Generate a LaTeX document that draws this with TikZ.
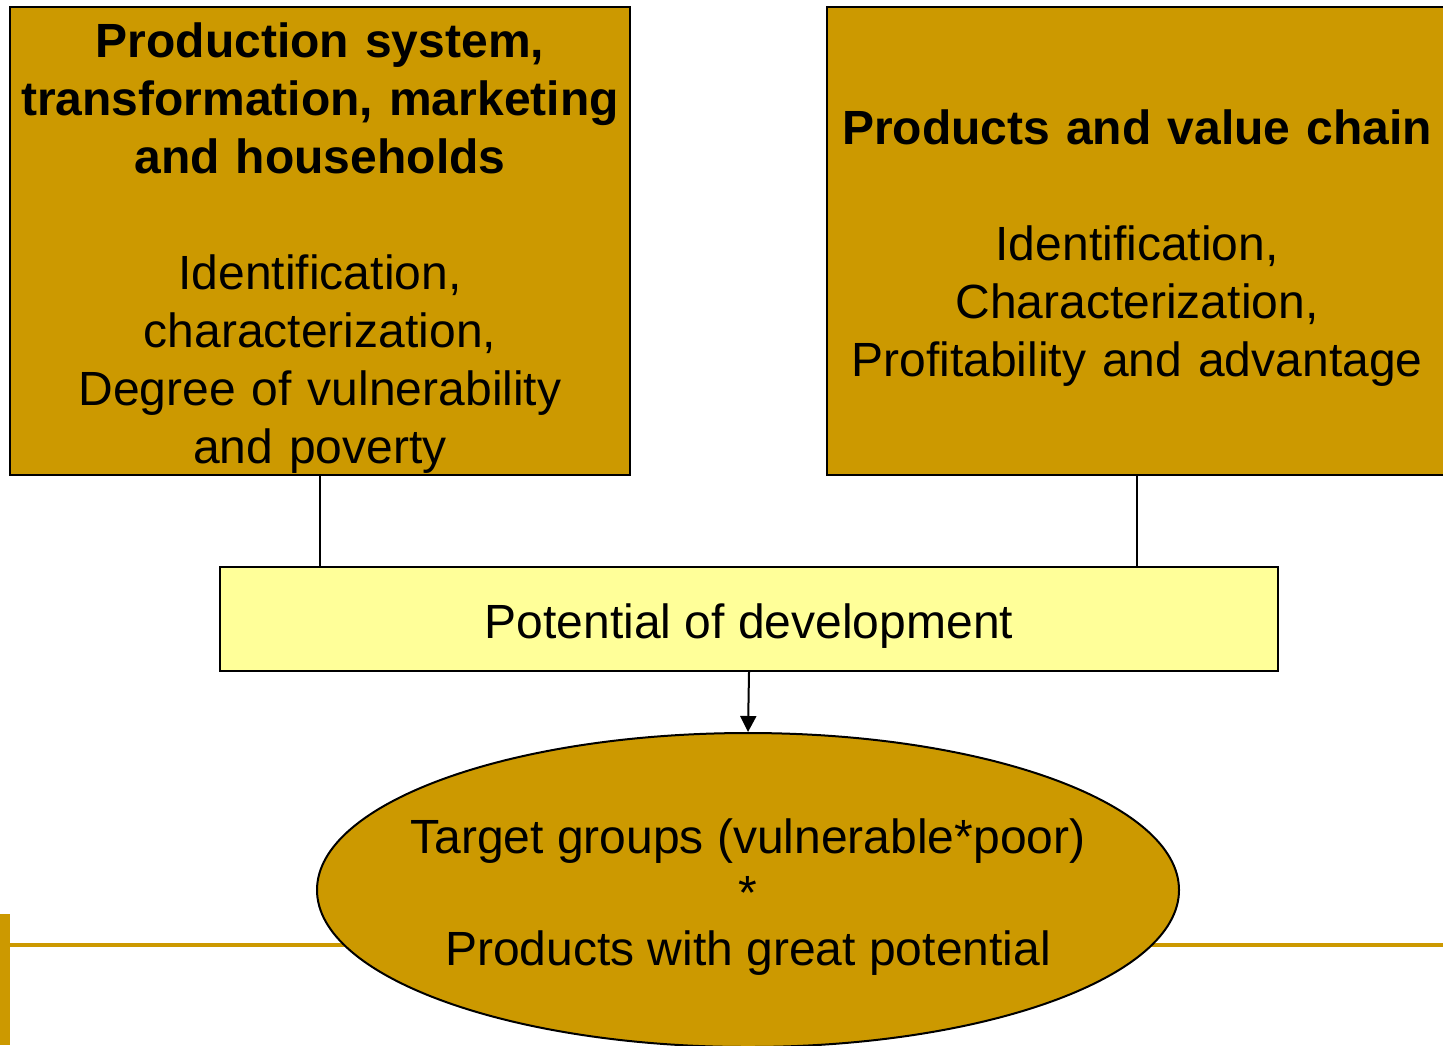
\documentclass[tikz,border=0pt]{standalone}
\usepackage{fontspec}
\setmainfont{Liberation Sans}
\usepackage{tikz}
\usetikzlibrary{positioning,shapes.geometric,arrows.meta}
\definecolor{gold}{HTML}{CC9900}
\definecolor{paleyellow}{HTML}{FFFF99}
\newcommand{\firstline}{\rule{0pt}{24.5pt}}
\tikzset{>={Triangle[length=8pt,width=8pt]}}
\tikzset{
    bigbox/.style={rectangle,draw,fill=gold,line width=1pt,minimum width=310pt,minimum height=234pt,inner sep=0pt,text width=305pt,align=center,font=\fontsize{24}{29}\selectfont},
    devbox/.style={rectangle,draw,fill=paleyellow,line width=1pt,minimum width=529pt,minimum height=52pt,inner sep=0pt,font=\fontsize{24}{29}\selectfont},
    targetgroup/.style={ellipse,draw,fill=gold,line width=1pt,minimum width=431pt,minimum height=157pt,inner ysep=0pt,inner xsep=-20pt,align=center,font=\fontsize{24}{28}\selectfont},
    link/.style={line width=1pt},
}

\begin{document}
\begin{tikzpicture}[x=0.5pt,y=-0.5pt]
        \useasboundingbox (0,0) rectangle (1443,1045);
        \clip (0,0) rectangle (1443,1045);

        % gold rule of the slide, behind the ellipse
        \fill[gold] (0,914) rectangle (10,1045);
        \fill[gold] (10,943) rectangle (1443,947);

        \node[bigbox] (prod) at (320,241) {\firstline\textbf{Production system,}\\ \textbf{transformation, marketing}\\ \textbf{and households}\\[29pt] Identification,\\ characterization,\\ Degree of vulnerability\\ and poverty};
        \node[bigbox] (chain) at (1137,241) {\firstline\textbf{Products and value chain}\\[29pt] Identification,\\ Characterization,\\ Profitability and advantage};
        \node[devbox] (dev) at (749,619) {\firstline Potential of development};
        \node[targetgroup] (target) at (748,890) {\firstline Target groups (vulnerable*poor)\\ *\\ Products with great potential};

        \draw[link] (prod.south) -- (prod.south |- dev.north);
        \draw[link] (chain.south) -- (chain.south |- dev.north);
        \draw[link,->] (dev.south) -- (target.north);
\end{tikzpicture}
\end{document}
